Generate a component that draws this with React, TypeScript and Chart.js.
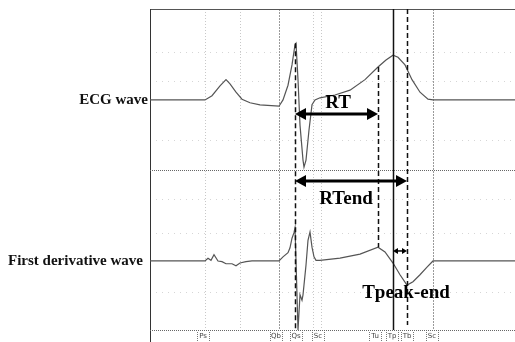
import React, { useEffect, useRef } from "react";
import { Chart, registerables } from "chart.js";
Chart.register(...registerables);

// time in ms
const ecgTime = [0,110,124,140,152,160,172,184,200,220,258,266,276,284,290,292,296,300,306,308,312,318,324,330,340,370,400,430,456,472,486,496,510,524,540,556,566,730];
const ecgValue = [0,0,0.06,0.2,0.29,0.23,0.11,0.01,-0.04,-0.07,-0.09,0,0.21,0.5,0.79,0.81,0.29,-0.36,-0.86,-0.96,-0.86,-0.43,-0.07,0,0.03,0.07,0.14,0.29,0.47,0.57,0.64,0.61,0.5,0.29,0.11,0.01,0,0];

const derivTime = [0,110,116,122,128,136,144,152,164,172,180,192,204,258,266,276,280,284,288,290,292,296,300,304,306,312,316,320,324,328,332,340,380,420,456,470,486,500,514,526,540,554,566,730];
const derivValue = [0,0,0.04,0.01,0.09,0,-0.01,-0.04,-0.04,-0.07,-0.03,-0.01,0,0,0.06,0.12,0.19,0.33,0.41,0.48,0.01,-1.0,-0.49,-0.57,-0.49,-0.06,0.3,0.42,0.2,0.06,0.01,0.01,0.04,0.1,0.2,0.13,-0.03,-0.2,-0.35,-0.3,-0.2,-0.09,0,0];

// markers (ms)
const rPeak = 290;
const tBegin = 456;
const tPeak = 486;
const tEnd = 514;
const gridTimes = [110, 180, 258, 326, 342, 566];
const gridStrong = [258, 566];
const ecgGridValues = [0.69, 0.27, -0.57];
const derivGridValues = [0.9, 0.4, -0.45];
const tickTimes = [106, 252, 292, 336, 450, 484, 514, 564];
const tickLabels = ["Ps", "Qb", "Qs", "Sc", "Tu", "Tp", "Tb", "Sc"];

const seriesLabels = ["ECG wave", "First derivative wave"];

export default function App() {
  const ref = useRef<HTMLCanvasElement>(null);
  useEffect(() => {
    const canvas = ref.current!;
    const overlay = {
      id: "overlay",
      beforeDatasetsDraw(chart: any) {
        const { ctx, chartArea: a, scales } = chart;
        const x = scales.x, yE = scales.yE, yD = scales.yD;
        ctx.save();
        ctx.lineWidth = 1;
        gridTimes.forEach((t) => {
          const px = Math.round(x.getPixelForValue(t)) + 0.5;
          const strong = gridStrong.includes(t);
          ctx.strokeStyle = strong ? "#9a9a9a" : "#c8c8c8";
          ctx.setLineDash(strong ? [2, 1] : [1, 2]);
          ctx.beginPath();
          ctx.moveTo(px, a.top);
          ctx.lineTo(px, a.bottom);
          ctx.stroke();
        });
        ctx.strokeStyle = "#d6d6d6";
        ctx.setLineDash([1, 5]);
        ecgGridValues.forEach((v) => {
          const py = Math.round(yE.getPixelForValue(v)) + 0.5;
          ctx.beginPath(); ctx.moveTo(a.left, py); ctx.lineTo(a.right, py); ctx.stroke();
        });
        derivGridValues.forEach((v) => {
          const py = Math.round(yD.getPixelForValue(v)) + 0.5;
          ctx.beginPath(); ctx.moveTo(a.left, py); ctx.lineTo(a.right, py); ctx.stroke();
        });
        ctx.setLineDash([]);
        ctx.strokeStyle = "#555";
        ctx.beginPath(); ctx.moveTo(a.left, a.top + 0.5); ctx.lineTo(a.right, a.top + 0.5); ctx.stroke();
        ctx.strokeStyle = "#333";
        ctx.beginPath(); ctx.moveTo(a.left + 0.5, a.top); ctx.lineTo(a.left + 0.5, chart.height); ctx.stroke();
        ctx.strokeStyle = "#666";
        ctx.setLineDash([1, 1]);
        const mid = Math.round((a.top + a.bottom) / 2) + 0.5;
        ctx.beginPath(); ctx.moveTo(a.left, mid); ctx.lineTo(a.right, mid); ctx.stroke();
        ctx.beginPath(); ctx.moveTo(a.left, a.bottom + 0.5); ctx.lineTo(a.right, a.bottom + 0.5); ctx.stroke();
        ctx.font = '7px "DejaVu Sans"';
        ctx.fillStyle = "#444";
        ctx.textAlign = "center";
        ctx.textBaseline = "middle";
        ctx.strokeStyle = "#777";
        tickTimes.forEach((t, i) => {
          const px = x.getPixelForValue(t);
          ctx.fillText(tickLabels[i], px, a.bottom + 6.5);
          [-6, 6].forEach((d) => {
            const bx = Math.round(px + d) + 0.5;
            ctx.beginPath(); ctx.moveTo(bx, a.bottom + 2); ctx.lineTo(bx, chart.height); ctx.stroke();
          });
        });
        ctx.setLineDash([]);
        ctx.font = 'bold 15px "Liberation Serif"';
        ctx.fillStyle = "#111";
        ctx.textAlign = "right";
        ctx.fillText(seriesLabels[0], a.left - 2, yE.getPixelForValue(0));
        ctx.fillText(seriesLabels[1], a.left - 7, yD.getPixelForValue(0));
        ctx.restore();
      },
      afterDatasetsDraw(chart: any) {
        const { ctx, chartArea: a, scales } = chart;
        const x = scales.x, yE = scales.yE, yD = scales.yD;
        ctx.save();
        ctx.strokeStyle = "#111";
        ctx.lineWidth = 1.5;
        const vline = (t: number, y1: number, y2: number, dashed: boolean) => {
          const px = Math.round(x.getPixelForValue(t)) + 0.5;
          ctx.setLineDash(dashed ? [5, 3] : []);
          ctx.beginPath(); ctx.moveTo(px, y1); ctx.lineTo(px, y2); ctx.stroke();
        };
        vline(rPeak, yE.getPixelForValue(0.81), a.bottom, true);
        vline(tBegin, yE.getPixelForValue(0.47), yD.getPixelForValue(0.2), true);
        vline(tPeak, a.top, a.bottom, false);
        vline(tEnd, a.top, a.bottom - 5, true);
        ctx.setLineDash([]);
        const arrow = (t1: number, t2: number, py: number, lw: number, hl: number, hw: number) => {
          const x1 = x.getPixelForValue(t1), x2 = x.getPixelForValue(t2);
          ctx.lineWidth = lw;
          ctx.fillStyle = "#000";
          ctx.strokeStyle = "#000";
          ctx.beginPath(); ctx.moveTo(x1 + hl - 1, py); ctx.lineTo(x2 - hl + 1, py); ctx.stroke();
          ctx.beginPath(); ctx.moveTo(x1, py); ctx.lineTo(x1 + hl, py - hw); ctx.lineTo(x1 + hl, py + hw); ctx.closePath(); ctx.fill();
          ctx.beginPath(); ctx.moveTo(x2, py); ctx.lineTo(x2 - hl, py - hw); ctx.lineTo(x2 - hl, py + hw); ctx.closePath(); ctx.fill();
        };
        arrow(rPeak, tBegin, yE.getPixelForValue(-0.2), 3, 11, 6);
        arrow(rPeak, tEnd, yE.getPixelForValue(-1.16), 3, 11, 6);
        arrow(tPeak, tEnd, yD.getPixelForValue(0.145), 1.5, 5, 3);
        ctx.font = 'bold 19px "Liberation Serif"';
        ctx.fillStyle = "#000";
        ctx.textAlign = "center";
        ctx.textBaseline = "middle";
        ctx.fillText("RT", x.getPixelForValue(376), yE.getPixelForValue(-0.05));
        ctx.fillText("RTend", x.getPixelForValue(392), yE.getPixelForValue(-1.42));
        ctx.fillText("Tpeak-end", x.getPixelForValue(512), yD.getPixelForValue(-0.46));
        ctx.restore();
      },
    };
    const chart = new Chart(canvas, {
      type: "line",
      data: {
        datasets: [
          {
            data: ecgTime.map((t, i) => ({ x: t, y: ecgValue[i] })),
            yAxisID: "yE",
            borderColor: "#555",
            borderWidth: 1.2,
            pointRadius: 0,
            tension: 0,
          },
          {
            data: derivTime.map((t, i) => ({ x: t, y: derivValue[i] })),
            yAxisID: "yD",
            borderColor: "#555",
            borderWidth: 1.2,
            pointRadius: 0,
            tension: 0,
          },
        ],
      },
      options: {
        responsive: false,
        animation: false,
        devicePixelRatio: 1,
        layout: { padding: { left: 150, top: 9, right: 0, bottom: 12 } },
        plugins: { legend: { display: false }, tooltip: { enabled: false } },
        scales: {
          x: { type: "linear", min: 0, max: 730, display: false },
          yE: { type: "linear", min: -3.29, max: 1.3, display: false },
          yD: { type: "linear", min: -1.0, max: 3.65, display: false },
        },
      },
      plugins: [overlay],
    });
    return () => chart.destroy();
  }, []);
  return (
    <div style={{ position: "absolute", left: 0, top: 0, width: 515, height: 342, background: "#fff" }}>
      <canvas ref={ref} width={515} height={342} />
    </div>
  );
}
